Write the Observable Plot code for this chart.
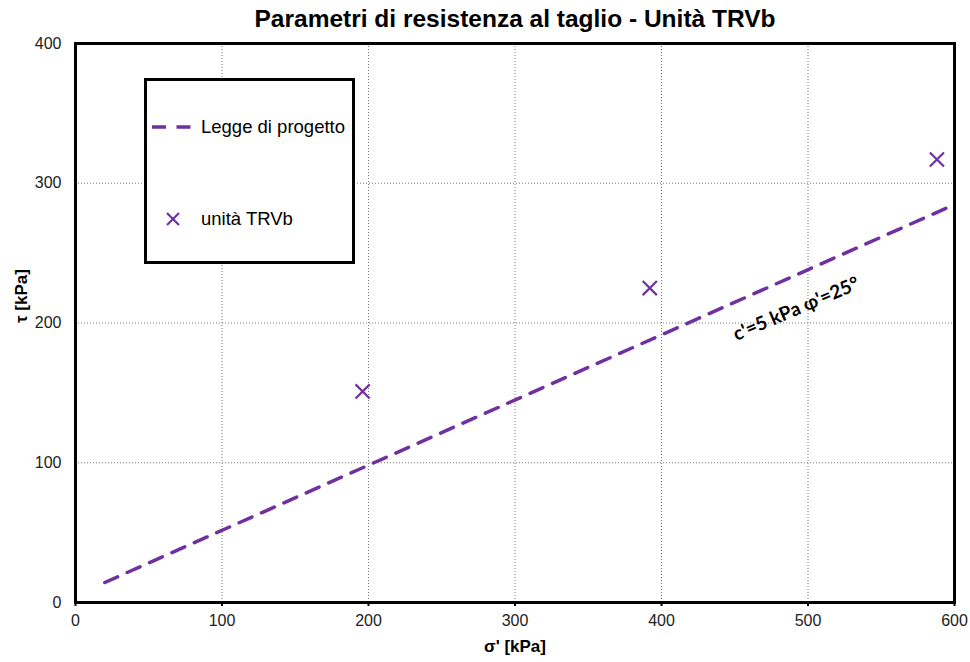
<!DOCTYPE html>
<html>
<head>
<meta charset="utf-8">
<script src="https://cdn.jsdelivr.net/npm/d3@7"></script>
<script src="https://cdn.jsdelivr.net/npm/@observablehq/plot@0.6"></script>
<style>
  html, body { margin: 0; padding: 0; background: #fff; }
  #chart { position: relative; width: 970px; height: 662px; font-family: "Liberation Sans", Arial, sans-serif; }
  #legend {
    position: absolute; left: 144px; top: 78px; width: 205px; height: 180px;
    border: 3px solid #000; background: #fff; color: #000;
    font-family: "Liberation Sans", Arial, sans-serif; font-size: 18.5px;
  }
  .entry { position: absolute; left: 5px; display: flex; align-items: center; }
  .entry svg { display: block; }
  .entry span { margin-left: 8px; }
</style>
</head>
<body>
<div id="chart"></div>
<script>
// Shear strength parameters for unit TRVb
const sigmaTests = [196, 392, 588];   // σ' [kPa]
const tauTests   = [151, 225, 317];   // τ  [kPa]

// Design envelope: c' = 5 kPa, φ' = 25°, drawn between these normal stresses
const cohesion = 5;
const phiDeg = 25;
const sigmaEnvelope = [20, 600];

const xTicks = [0, 100, 200, 300, 400, 500, 600];
const yTicks = [0, 100, 200, 300, 400];

const purple = "#7030A0";
const envelope = sigmaEnvelope.map(s => ({s, t: cohesion + s * Math.tan(phiDeg * Math.PI / 180)}));
const tests = sigmaTests.map((s, i) => ({s, t: tauTests[i]}));
const envelopeLabel = [{s: 492, t: 210, text: "c'=5 kPa φ'=25°"}];

const chart = Plot.plot({
  width: 970,
  height: 662,
  marginLeft: 75,
  marginRight: 16,
  marginTop: 43,
  marginBottom: 60,
  style: {fontFamily: "'Liberation Sans', Arial, sans-serif", color: "#000", background: "#fff"},
  x: {domain: [0, 600]},
  y: {domain: [0, 400]},
  marks: [
    Plot.gridX(xTicks.slice(1, -1), {stroke: "#777", strokeOpacity: 1, strokeDasharray: "1,2"}),
    Plot.gridY(yTicks.slice(1, -1), {stroke: "#777", strokeOpacity: 1, strokeDasharray: "1,2"}),
    Plot.axisX(xTicks, {tickSize: 4, tickPadding: 8, fontSize: 16, label: null, stroke: "#000", strokeWidth: 2, color: "#222"}),
    Plot.axisY(yTicks, {tickSize: 0, tickPadding: 14, fontSize: 16, label: null, color: "#222"}),
    Plot.line(envelope, {x: "s", y: "t", stroke: purple, strokeWidth: 3.5, strokeDasharray: "14,10.5"}),
    Plot.dot(tests, {x: "s", y: "t", symbol: "times", r: 6.5, stroke: purple, strokeWidth: 2.2}),
    Plot.text(envelopeLabel, {x: "s", y: "t", text: "text", rotate: -23, fontFamily: "Lato, 'Open Sans', sans-serif", fontWeight: "bold", fontSize: 19, fill: "#000"}),
    Plot.frame({stroke: "#000", strokeWidth: 3}),
    Plot.text(["Parametri di resistenza al taglio - Unità TRVb"], {frameAnchor: "top", lineAnchor: "middle", dy: -24, fontSize: 24.5, fontWeight: "bold", fill: "#000"}),
    Plot.text(["σ' [kPa]"], {frameAnchor: "bottom", lineAnchor: "middle", dy: 44, fontSize: 17, fontWeight: "bold", fill: "#000"}),
    Plot.text(["τ [kPa]"], {frameAnchor: "left", dx: -54, rotate: -90, fontSize: 17, fontWeight: "bold", fill: "#000"})
  ]
});

const host = document.getElementById("chart");
host.appendChild(chart);

// Legend box
const legend = document.createElement("div");
legend.id = "legend";
legend.innerHTML = `
  <div class="entry" style="top:35px;">
    <svg width="41" height="20"><line x1="0" y1="10" x2="40" y2="10" stroke="${purple}" stroke-width="3.5" stroke-dasharray="14,10.5"/></svg>
    <span>Legge di progetto</span>
  </div>
  <div class="entry" style="top:127px;">
    <svg width="41" height="20"><g stroke="${purple}" stroke-width="2.2"><line x1="15" y1="4" x2="27" y2="16"/><line x1="27" y1="4" x2="15" y2="16"/></g></svg>
    <span>unità TRVb</span>
  </div>`;
host.appendChild(legend);
</script>
</body>
</html>
